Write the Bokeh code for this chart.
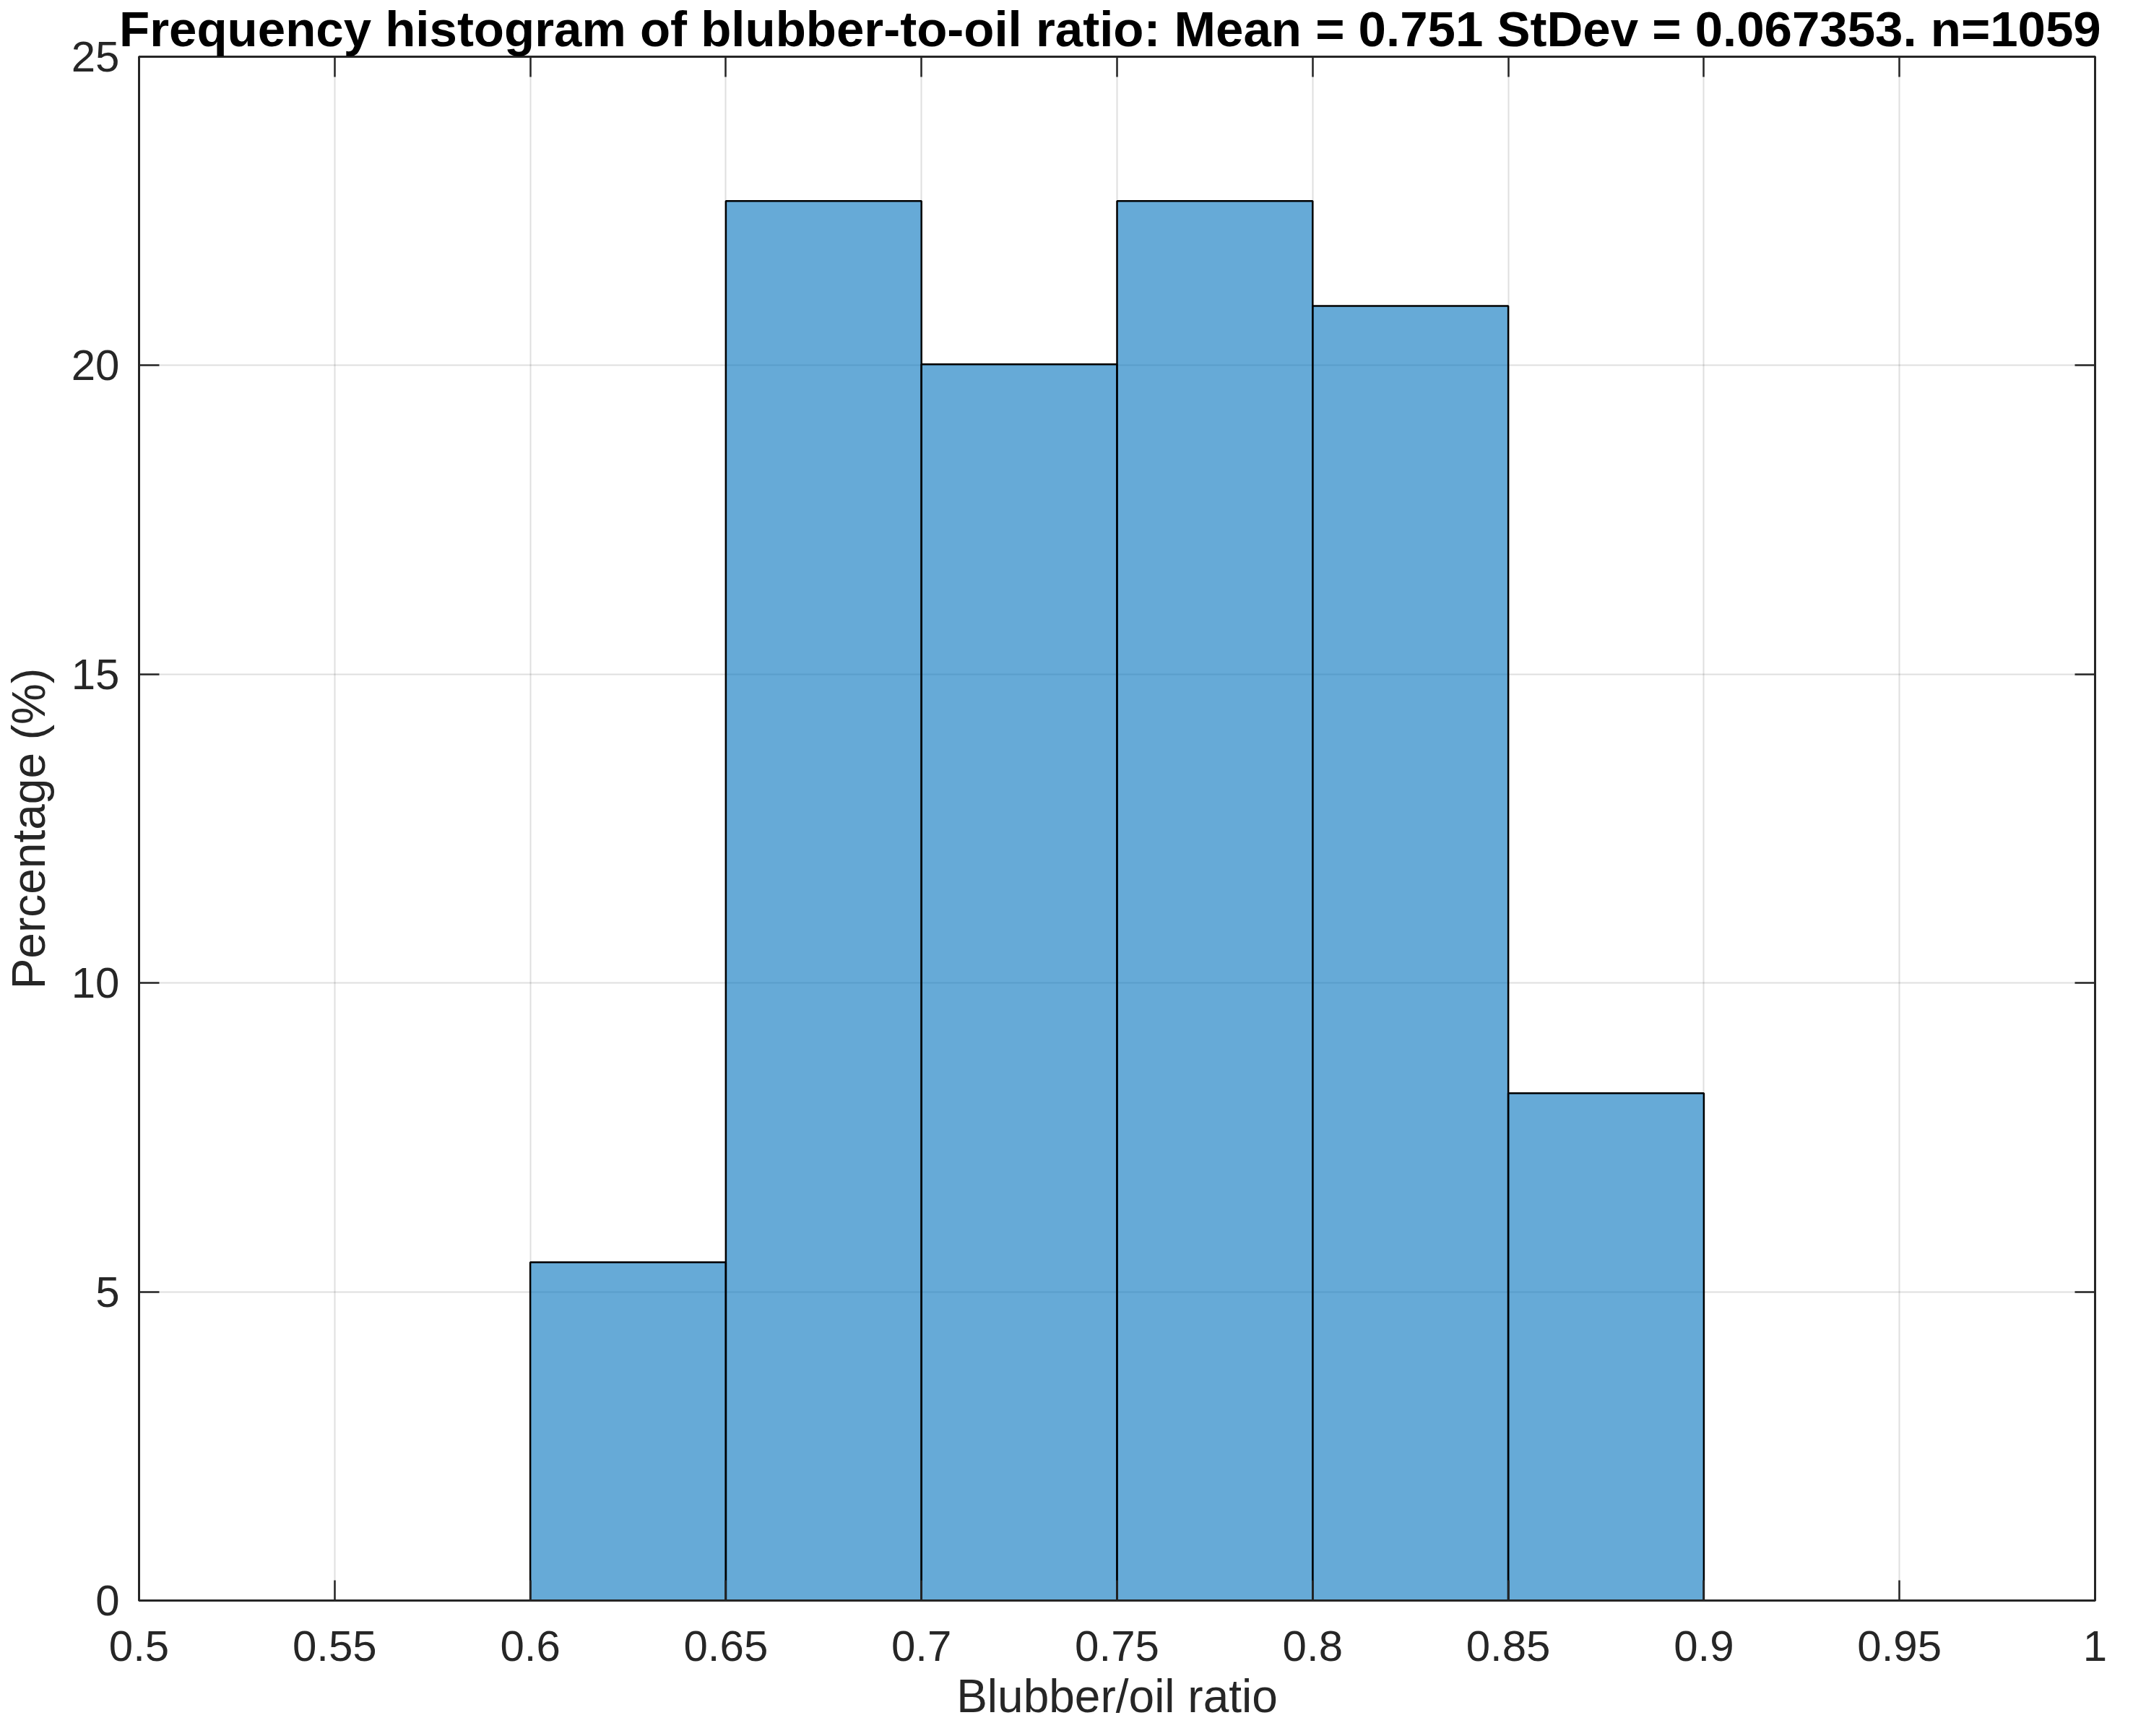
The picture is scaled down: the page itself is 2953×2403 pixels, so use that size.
from bokeh.plotting import figure
from bokeh.models import LinearAxis, FixedTicker, Range1d, CustomLabelingPolicy
from bokeh.embed import file_html
from bokeh.resources import INLINE

# ---- data ----
bin_left = [0.60, 0.65, 0.70, 0.75, 0.80, 0.85]
bin_right = [0.65, 0.70, 0.75, 0.80, 0.85, 0.90]
percentage = [5.477, 22.663, 20.019, 22.663, 20.963, 8.215]

x_ticks = [0.5, 0.55, 0.6, 0.65, 0.7, 0.75, 0.8, 0.85, 0.9, 0.95, 1.0]
x_tick_labels = ["0.5", "0.55", "0.6", "0.65", "0.7", "0.75", "0.8", "0.85", "0.9", "0.95", "1"]
y_ticks = [0, 5, 10, 15, 20, 25]
y_tick_labels = ["0", "5", "10", "15", "20", "25"]

title_text = "Frequency histogram of blubber-to-oil ratio: Mean = 0.751  StDev = 0.067353. n=1059"
x_label = "Blubber/oil ratio"
y_label = "Percentage (%)"

FONT = "Liberation Sans"
AX = "#262626"

p = figure(width=2937, height=2387, output_backend="svg", toolbar_location=None,
           x_range=Range1d(0.5, 1.0), y_range=Range1d(0, 25),
           min_border_left=184, min_border_right=37, min_border_top=69, min_border_bottom=172)

p.title.text = title_text
p.title.text_font = FONT
p.title.text_font_style = "bold"
p.title.text_font_size = "69px"
p.title.text_color = "#000000"
p.title.align = "center"
p.title.offset = 8
p.title.standoff = -1

p.quad(left=bin_left, right=bin_right, bottom=0, top=percentage,
       fill_color="#0072BD", fill_alpha=0.6, line_color="#000000", line_width=2.5)

no_labels = CustomLabelingPolicy(code="""
const ids = Array.from(indices);
for (const i of ids) indices.unset(i);
return indices;
""")

def style_axis(ax, labels=True):
    ax.major_tick_in = 28
    ax.major_tick_out = 0
    ax.minor_tick_in = 0
    ax.minor_tick_out = 0
    ax.major_tick_line_color = AX
    ax.major_tick_line_width = 2.5
    ax.axis_line_color = AX
    ax.axis_line_width = 3
    ax.major_label_text_font = FONT
    ax.major_label_text_color = AX
    ax.axis_label_text_font = FONT
    ax.axis_label_text_color = AX
    ax.axis_label_text_font_style = "normal"
    if labels:
        ax.major_label_text_font_size = "60px"
        ax.axis_label_text_font_size = "64px"
    else:
        ax.major_label_text_font_size = "0px"
        ax.major_label_standoff = 0
        ax.major_label_policy = no_labels

xt = FixedTicker(ticks=x_ticks)
yt = FixedTicker(ticks=y_ticks)

p.xaxis.ticker = xt
p.yaxis.ticker = yt
p.xaxis.major_label_overrides = dict(zip(x_ticks, x_tick_labels))
p.yaxis.major_label_overrides = dict(zip(y_ticks, y_tick_labels))
p.xaxis.axis_label = x_label
p.yaxis.axis_label = y_label
style_axis(p.xaxis[0])
style_axis(p.yaxis[0])
p.xaxis.major_label_standoff = 42
p.xaxis.axis_label_standoff = 10
p.yaxis.major_label_standoff = 27
p.yaxis.axis_label_standoff = 20

top_ax = LinearAxis(ticker=xt)
right_ax = LinearAxis(ticker=yt)
style_axis(top_ax, labels=False)
style_axis(right_ax, labels=False)
p.add_layout(top_ax, "above")
p.add_layout(right_ax, "right")

p.xgrid.ticker = xt
p.ygrid.ticker = yt
p.grid.grid_line_color = AX
p.grid.grid_line_alpha = 0.15
p.grid.grid_line_width = 2

p.outline_line_color = AX
p.outline_line_width = 3
p.background_fill_color = "#ffffff"
p.border_fill_color = "#ffffff"

open("out.html", "w").write(file_html(p, INLINE))
